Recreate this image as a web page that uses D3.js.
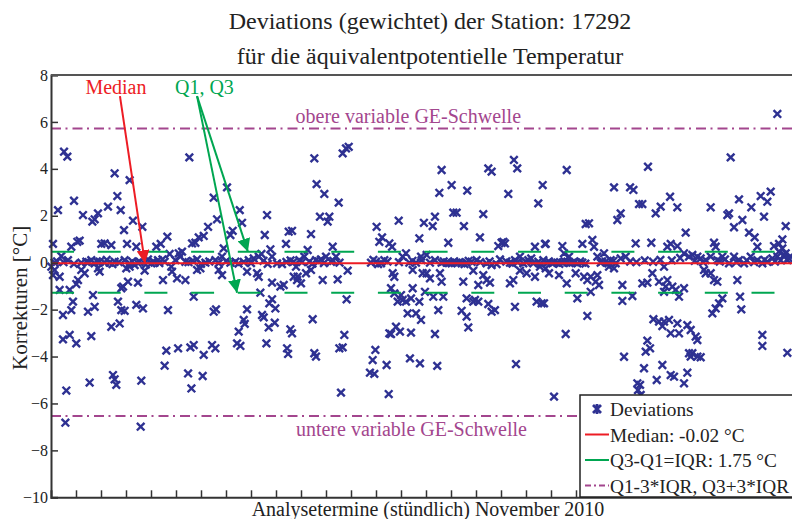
<!DOCTYPE html>
<html>
<head>
<meta charset="utf-8">
<script src="https://cdn.jsdelivr.net/npm/d3@7"></script>
<style>
  body { margin: 0; background: #fff; }
  svg { display: block; overflow: hidden; }
  text { font-family: "Liberation Serif", "Times New Roman", serif; }
</style>
</head>
<body>
<div id="chart"></div>
<script>
(function () {

// hourly analysis terms, November 2010 (hour since 1 Nov 00 UTC, deviation in °C)
const deviations = [
  // 1 - 5 Nov
  [12.5,4.73],[15.7,4.52],[6.7,2.24],[22.1,2.64],[61.1,3.81],[75.5,3.52],[63.7,2.84],[54.7,2.39],
  [30.7,2.03],[39.7,1.75],[41.9,1.85],[45.1,2.1],[66.9,2.24],[70.1,1.39],[78.7,1.79],[87.7,1.53],
  [111.7,1.11],[25.3,0.89],[27.5,0.94],[1.9,0.8],[48.3,0.8],[51.5,0.82],[57.9,0.75],[73,0.8],
  [81.9,0.68],[101.1,0.68],[105.3,0.8],[113.9,0.37],[9.9,0.28],[19.5,0.68],
  [3.5,0],[29.1,0],[33.9,0.04],[41.9,-0.03],[46.7,0.04],[51.5,0],[56.3,0],[75.5,-0.03],[80.3,-0.1],
  [96.3,-0.03],[99.5,0],[109.1,0.04],[115.5,-0.17],[16.3,0.11],[38.7,0.11],[61.1,0.04],[70.7,0.11],
  [85.1,0.04],[93.1,0.14],[102.7,0.11],[5.8,0.05],[12,0.02],[22,-0.05],[36,0.02],[44,0.06],[53.5,0.12],
  [59,-0.06],[65,0.02],[78,0.05],[83,0.0],[91,-0.08],[98,0.06],[104,-0.02],[107,0.14],
  [0.3,-0.17],[3.5,-0.31],[8.3,-0.6],[1.9,-0.53],[29.1,-0.31],[32.3,-0.45],[25.9,-0.74],[24.3,-0.91],
  [45.1,-0.24],[46.7,-0.38],[72.3,-0.24],[75.5,-0.17],[89.9,-0.34],[107.5,-0.74],[69.1,-1.02],
  [73.9,-0.81],[67.5,-1.09],[83.5,-0.85],[8.3,-1.16],[17.9,-1.16],[40.3,-1.38],[21.1,-1.66],
  [19.5,-2.02],[11.5,-2.23],[35.5,-2.09],[41.9,-1.88],[64.3,-1.66],[67.5,-2.02],[70.7,-2.05],
  [81.9,-1.8],[88.3,-1.95],[112.3,-2.02],[57.9,-2.73],[65.9,-2.59],[11.5,-3.27],[17.9,-3.08],
  [24.3,-3.44],[38.7,-3.13],[110.7,-3.75],[109.1,-4.39],[14.7,-5.45],[37.1,-5.11],[59.5,-4.79],
  [61.1,-4.97],[62.7,-5.21],[86.7,-5.03],[13.8,-6.82],[86.1,-6.99],
  // 5 - 10 Nov
  [132.8,4.49],[169,3.21],[156.2,2.77],[181.2,2.24],[183.4,1.7],[159.4,1.85],[150.8,1.53],[146.6,1.14],
  [141.8,1.08],[138.6,0.85],[135.4,0.82],[174.4,1.36],[172.2,1.18],[207.4,2.03],[205.2,1.18],
  [228.2,1.32],[231.4,1.36],[225.6,0.8],[165.8,0.61],[210.6,0.57],[202,0.37],
  [119.4,0.11],[124.2,0.26],[129,0.04],[140.2,0.14],[148.2,0],[157.8,0.11],[164.2,0.26],[172.2,0],
  [177,0.04],[189.8,0.11],[194.6,0.18],[199.4,0.26],[212.2,0.26],[217,-0.03],[221.8,-0.06],[233,0.04],
  [122.6,0.4],[125.8,0.47],[132,0.02],[136,0.08],[144,-0.05],[152,0.05],[161,-0.02],[168,0.06],
  [180,-0.04],[185,0.03],[192,-0.02],[204,0.08],[208,-0.05],[226,0.03],[230,0.1],
  [121,-0.67],[129,-0.74],[140.2,-0.31],[143.4,-0.24],[161,-0.31],[164.2,-0.53],[188.2,-0.38],
  [197.8,-0.45],[199.4,-0.6],[233,-0.6],[236.2,-0.74],[116.2,-0.38],[212.2,-0.85],[220.2,-1.02],
  [223.4,-0.95],[137,-1.45],[201,-1.28],[156.2,-2.09],[158.4,-1.99],[188.2,-1.99],[185,-2.44],
  [186,-2.61],[180.2,-2.94],[178.6,-3.44],[181.8,-3.55],[202.6,-2.23],[204.2,-2.33],[212.2,-1.56],
  [209.6,-1.73],[215.4,-1.95],[209,-2.76],[214.8,-2.56],[206.8,-3.44],[229.8,-2.84],[231.4,-3.01],
  [226.6,-3.65],[227.6,-3.89],[122,-3.65],[133.8,-3.61],[137,-3.51],[146.6,-3.93],[154.6,-3.51],
  [157.8,-3.65],[131.6,-4.72],[145.6,-4.83],[134.8,-5.36],
  // 10 - 15 Nov
  [252.8,4.45],[280,4.66],[283.2,4.87],[285.8,4.94],[255,3.35],[262.4,2.93],[276.2,2.56],[258.2,1.96],
  [265.6,1.75],[267.2,1.96],[249.6,1.22],[246.4,0.54],[270.4,0.68],[312.6,1.53],[317.8,1.08],
  [315.2,0.89],[327.4,0.68],[324.8,0.82],[333.8,1.79],[353.6,1.04],
  [235.2,-0.17],[238.4,0.11],[243.2,0.26],[248,0.04],[254.4,0.11],[259.2,0.14],[264,0.26],[268.8,0.04],
  [273.6,0.26],[307.2,0],[312,0.04],[316.8,-0.03],[320,0.11],[337.6,0.26],[344,0],[350.4,0],
  [355.2,0.26],[340.8,0.4],[241,0.02],[251,-0.04],[257,0.06],[262,-0.02],[271,0.08],[277,0.0],
  [309.5,0.12],[314,-0.06],[323,0.05],[334,0.02],[347,0.08],
  [236.8,-0.6],[240,-0.88],[244.8,-0.45],[249.6,-0.31],[260.8,-0.74],[275.2,-0.71],[284.8,-0.34],
  [328,-0.45],[329.6,-0.6],[347.2,-0.31],[356.8,-0.45],[283.8,-1.56],[326.4,-1.09],[329.6,-1.31],
  [336,-1.38],[337.6,-1.59],[332.8,-1.66],[340.8,-1.66],[345.6,-1.52],[347.2,-1.09],[350.4,-2.16],
  [353.6,-1.66],[355.2,-2.44],[342.4,-2.16],[251.2,-2.41],[281.6,-3.08],[280,-3.61],[276.8,-3.65],
  [252.8,-3.86],[254.4,-4.0],[324.8,-3.01],[331.2,-2.73],[326.4,-3.04],[335,-2.94],[345.6,-2.98],
  [311.4,-3.72],[308.8,-4.15],[306.2,-4.69],[310.4,-4.74],[322.2,-4.36],[344.6,-4.08],[354.2,-4.29],
  [278.4,-5.54],[324.2,-5.6],
  // 15 - 20 Nov
  [375,3.95],[384.6,3.31],[372.8,2.98],[399.6,3.07],[419.8,4.02],[423,3.88],[444.4,4.38],[447.6,4.02],
  [439,2.93],[472,3.31],[467.8,2.53],[386.2,2.13],[389.4,2.13],[368.6,1.96],[366.4,1.56],[358,1.7],
  [415,2.07],[396.4,1.56],[411.8,1.08],[381.4,0.85],[429.4,0.71],[432.6,0.85],[435.8,0.82],
  [434.2,0.89],[464.6,0.68],[474.2,0.8],
  [375,0],[379.8,0],[384.6,-0.03],[389.4,0],[394.2,-0.03],[399,0],[403.8,0.04],[408.6,0.11],
  [418.2,-0.03],[423,-0.1],[427.8,-0.06],[440.6,0],[445.4,0.11],[450.2,0.26],[453.4,-0.03],
  [458.2,0.11],[463,-0.03],[467.8,0.04],[472.6,0.11],[360.6,0.33],[363.8,0],[368.6,0.11],[355.8,0.11],
  [377,0.05],[382,-0.02],[387,0.06],[392,0.02],[397,-0.06],[401,0.08],[412,0.02],[421,0.05],
  [431,0.14],[437,0.05],[443,-0.04],[448,0.02],[456,0.04],[461,0.18],[470,-0.05],
  [360.6,-0.45],[363.8,-0.67],[373.4,-0.45],[375,-0.81],[395.8,-0.81],[405.4,-0.34],[410.2,-0.95],
  [415,-0.53],[418.2,-0.74],[421.4,-0.85],[440.6,-0.88],[443.8,-0.74],[450.2,-0.34],[456.6,-0.45],
  [464.6,-0.6],[469.4,-0.17],[359,-1.24],[367,-1.45],[376.6,-1.45],[399,-1.52],[405.4,-1.66],
  [407,-1.59],[410.2,-1.66],[419.8,-1.76],[423,-2.09],[426.2,-2.02],[445.4,-1.88],[466.2,-1.66],
  [471,-1.73],[371.8,-2.02],[394.2,-2.05],[399,-2.3],[400.6,-2.76],[368.6,-3.04],[370.8,-4.4],
  [446.4,-4.32],
  // 20 - 25 Nov
  [495.1,3.95],[573.1,4.09],[540.5,3.21],[555.9,3.21],[559.1,3.1],[564.5,2.5],[567.7,2.5],[585.3,2.39],
  [580.5,2.1],[546.9,2.1],[543.7,1.82],[513.3,1.65],[516.5,1.68],[561.3,0.82],[576.3,0.85],
  [519.7,0.97],[510.1,0.8],[490.9,0.71],[474.9,0.8],
  [476.5,0],[481.3,-0.03],[486.1,0],[490.9,0],[495.7,0.04],[500.5,0],[505.3,-0.03],[510.1,0],
  [527.7,0],[532.5,0.04],[537.3,0.11],[542.1,-0.03],[546.9,0.18],[551.7,0.26],[524.5,0.26],
  [530.9,0.4],[521.3,0.68],[492.5,0.4],[497.3,0.26],[478,0.05],[483,0.02],[488,-0.05],[493,0.06],
  [498,-0.02],[503,0.03],[508,0.05],[513,-0.04],[529,0.06],[535,-0.03],[540,0.08],[556,0.05],
  [562,0.02],[570,0.1],[578,0.04],[585,0.12],
  [474.9,-0.24],[478.1,-0.45],[487.7,-0.53],[503.7,-0.45],[511.7,-0.6],[514.9,-0.74],[518.1,-0.6],
  [522.9,-0.81],[526.1,-0.95],[524.5,-0.53],[535.7,-0.17],[540.5,-0.24],[548.5,-0.95],[577.3,-0.45],
  [567.7,-0.88],[572.5,-0.85],[583.7,-0.81],[495.1,-0.88],[505.3,-1.52],[518.1,-1.24],[548.5,-1.63],
  [558.1,-1.42],[514.9,-2.27],[494.1,-3.04],[473.3,-1.73],[578.3,-2.41],[583.7,-2.51],[586.9,-2.7],
  [572.5,-3.32],[575.1,-3.65],[570.9,-3.79],[550.1,-4.01],[569.3,-4.5],[586.9,-4.36],[581.5,-5.0],
  [562.9,-5.14],[565.5,-5.21],[563.5,-5.43],[566.1,-5.64],[482.9,-5.71],
  // 25 - 30 Nov
  [697.3,6.34],[652.5,4.49],[594.3,2.81],[601.3,2.36],[633.3,2.36],[649.3,2.03],[650.9,2.1],[660.5,2.7],
  [672.3,2.36],[681.3,2.84],[687.7,2.6],[690.9,3.03],[684.5,1.96],[663.7,1.82],[655.7,1.51],
  [670.1,1.28],[675.5,1.08],[609.3,1.28],[705.3,1.56],[636.5,0.85],[638.1,0.68],[702.1,0.99],
  [698.9,0.8],[694.1,0.71],[678.1,0.68],[594.9,0.8],[601.3,0.71],[591.7,0.68],
  [607.7,0.4],[612.5,0.26],[615.7,0.33],[620.5,0.26],[623.7,0.18],[628.5,0.11],[633.3,0.26],
  [639.7,0.11],[644.5,0.26],[650.9,-0.03],[655.7,0.26],[660.5,0.11],[665.3,-0.03],[671.7,0.26],
  [678.1,0.11],[682.9,-0.03],[687.7,0.04],[692.5,0.18],[697.3,0.26],[700.5,0.11],[703.7,0.33],
  [706.9,0.11],[710.1,0.26],[698.9,0.47],[702.1,0.61],[705.3,0.4],[596,0.1],[604,0.2],[618,0.08],
  [626,0.02],[642,0.05],[647,0.14],[658,0.03],[668,0.1],[675,0.02],[685,0.12],[695,0.05],[708,0.2],
  [588.5,-0.17],[591.7,-0.74],[596.5,-1.02],[599.7,-1.16],[602.9,-1.45],[607.7,-1.09],[626.9,-0.31],
  [628.5,-0.45],[633.3,-0.45],[636.5,-0.74],[639.7,-0.81],[644.5,-1.52],[641.3,-1.73],[638.1,-1.95],
  [634.9,-2.16],[658.9,-0.74],[661.5,-1.45],[662.7,-1.99],[590.1,-1.02],[588.5,-1.24],[588.5,-2.51],
  [593.3,-2.44],[594.9,-3.01],[601.3,-2.59],[602.9,-3.01],[610.9,-2.66],[614.1,-2.87],[618.9,-3.15],
  [620.5,-3.3],[615.7,-3.86],[614.1,-4.0],[620.5,-4.0],[623.7,-4.03],[612.5,-3.86],[594.9,-4.79],
  [598.1,-4.86],[607.7,-5.14],[610.9,-4.69],[682.9,-3.08],[682.9,-3.55],[706.9,-3.84]
];

// statistics shown in the legend
const median = -0.02;
const q1 = -1.28, q3 = 0.47;
const iqr = q3 - q1;
const lowerLimit = q1 - 3 * iqr, upperLimit = q3 + 3 * iqr;

const titleLines = ["Deviations (gewichtet) der Station: 17292", "für die äquivalentpotentielle Temperatur"];
const yTicks = [-10, -8, -6, -4, -2, 0, 2, 4, 6, 8];
const dayTicks = d3.range(24, 721, 24);
const legendItems = [
  {label: "Deviations", kind: "mark"},
  {label: "Median: -0.02 °C", kind: "median"},
  {label: "Q3-Q1=IQR: 1.75 °C", kind: "iqr"},
  {label: "Q1-3*IQR, Q3+3*IQR", kind: "limit"}
];

const W = 792, H = 519;
const margin = {top: 75, left: 51};
const width = 750, height = 422.3;
const serif = "'Liberation Serif', 'Times New Roman', serif";

const navy = "#2e3192", red = "#ed1c24", green = "#00a651", purple = "#a3468e", axisCol = "#333";

const svg = d3.select("#chart").append("svg")
    .attr("width", W)
    .attr("height", H);

const x = d3.scaleLinear().domain([0, 720]).range([margin.left, margin.left + width]);
const y = d3.scaleLinear().domain([-10, 8]).range([margin.top + height, margin.top]);

// title
svg.selectAll(".title")
  .data(titleLines)
  .join("text")
    .attr("x", 430)
    .attr("y", (d, i) => 29 + i * 35)
    .attr("text-anchor", "middle")
    .attr("font-size", 24)
    .attr("fill", "#222")
    .text(d => d);

// threshold lines
const limits = [upperLimit, lowerLimit];
svg.selectAll(".limit")
  .data(limits)
  .join("line")
    .attr("x1", x(0)).attr("x2", x(720))
    .attr("y1", d => y(d)).attr("y2", d => y(d))
    .attr("stroke", purple)
    .attr("stroke-width", 2)
    .attr("stroke-dasharray", "10,4.5,2,5");

svg.append("text")
    .attr("x", x(343)).attr("y", y(upperLimit) - 5)
    .attr("text-anchor", "middle").attr("font-size", 20).attr("fill", purple)
    .text("obere variable GE-Schwelle");
svg.append("text")
    .attr("x", x(346)).attr("y", y(lowerLimit) + 20)
    .attr("text-anchor", "middle").attr("font-size", 20).attr("fill", purple)
    .text("untere variable GE-Schwelle");

// deviations as x marks
const cross = "M-3.8,-3.8L3.8,3.8M-3.8,3.8L3.8,-3.8";
svg.append("g")
  .selectAll("path")
  .data(deviations)
  .join("path")
    .attr("transform", d => `translate(${x(d[0])},${y(d[1])})`)
    .attr("d", cross)
    .attr("stroke", navy)
    .attr("stroke-width", 2.4)
    .attr("fill", "none");

// quartile lines
svg.selectAll(".quart")
  .data([q3, q1])
  .join("line")
    .attr("x1", x(0)).attr("x2", x(720))
    .attr("y1", d => y(d)).attr("y2", d => y(d))
    .attr("stroke", green)
    .attr("stroke-width", 2)
    .attr("stroke-dasharray", "23,23.7");

// median
svg.append("line")
    .attr("x1", x(0)).attr("x2", x(720))
    .attr("y1", y(median)).attr("y2", y(median))
    .attr("stroke", red).attr("stroke-width", 2);

// annotations with arrows
const defs = svg.append("defs");
[["arRed", red], ["arGreen", green]].forEach(([id, c]) => {
  defs.append("marker")
      .attr("id", id)
      .attr("viewBox", "0 0 10 10")
      .attr("refX", 10).attr("refY", 5)
      .attr("markerWidth", 13).attr("markerHeight", 13)
      .attr("markerUnits", "userSpaceOnUse")
      .attr("orient", "auto")
    .append("path")
      .attr("d", "M0,0L10,5L0,10z")
      .attr("fill", c);
});

const arrows = [
  {from: [66.2, 7.1], to: [90.2, median], color: red, marker: "arRed"},
  {from: [140.2, 7.1], to: [189, q3], color: green, marker: "arGreen"},
  {from: [140.2, 7.1], to: [178.6, q1], color: green, marker: "arGreen"}
];
svg.selectAll(".arrow")
  .data(arrows)
  .join("line")
    .attr("x1", d => x(d.from[0])).attr("y1", d => y(d.from[1]))
    .attr("x2", d => x(d.to[0])).attr("y2", d => y(d.to[1]))
    .attr("stroke", d => d.color)
    .attr("stroke-width", 2)
    .attr("marker-end", d => `url(#${d.marker})`);

svg.append("text")
    .attr("x", x(33)).attr("y", y(7.2))
    .attr("font-size", 20).attr("fill", red)
    .text("Median");
svg.append("text")
    .attr("x", x(119)).attr("y", y(7.2))
    .attr("font-size", 20).attr("fill", green)
    .text("Q1, Q3");

// axes
const yAxis = d3.axisLeft(y).tickValues(yTicks).tickSize(-7).tickPadding(12);
const gy = svg.append("g")
    .attr("transform", `translate(${margin.left},0)`)
    .call(yAxis);
gy.select(".domain").attr("stroke", axisCol).attr("stroke-width", 2);
gy.selectAll(".tick line").attr("stroke", axisCol).attr("stroke-width", 1.5);
gy.selectAll(".tick text")
    .style("font-family", serif)
    .attr("font-size", 16)
    .attr("fill", "#222")
    .attr("x", -3);

const xAxis = d3.axisBottom(x).tickValues(dayTicks).tickSize(-7).tickFormat("");
const gx = svg.append("g")
    .attr("transform", `translate(0,${margin.top + height})`)
    .call(xAxis);
gx.select(".domain").attr("stroke", axisCol).attr("stroke-width", 2);
gx.selectAll(".tick line").attr("stroke", axisCol).attr("stroke-width", 1.5);

// top frame
svg.append("line")
    .attr("x1", x(0)).attr("x2", x(720))
    .attr("y1", y(8)).attr("y2", y(8))
    .attr("stroke", "#555").attr("stroke-width", 2);

// axis labels
svg.append("text")
    .attr("transform", `translate(27,${y(-1.5)}) rotate(-90)`)
    .attr("text-anchor", "middle")
    .attr("font-size", 21).attr("fill", "#222")
    .text("Korrekturen [°C]");
svg.append("text")
    .attr("x", 428).attr("y", 516)
    .attr("text-anchor", "middle")
    .attr("font-size", 20).attr("fill", "#222")
    .text("Analysetermine (stündlich) November 2010");

// legend
const lg = svg.append("g").attr("transform", "translate(580,395)");
lg.append("rect")
    .attr("width", 240).attr("height", 102)
    .attr("fill", "#fff").attr("stroke", "#222").attr("stroke-width", 1.5);

const item = lg.selectAll(".item")
  .data(legendItems)
  .join("g")
    .attr("transform", (d, i) => `translate(0,${14 + i * 25.5})`);

item.filter(d => d.kind === "mark").append("path")
    .attr("transform", "translate(17,0)")
    .attr("d", "M-4,-4L4,4M-4,4L4,-4M0,-5L0,5")
    .attr("stroke", navy).attr("stroke-width", 2.8);
item.filter(d => d.kind !== "mark").append("line")
    .attr("x1", 5).attr("x2", 29)
    .attr("stroke", d => d.kind === "median" ? red : d.kind === "iqr" ? green : purple)
    .attr("stroke-width", 2)
    .attr("stroke-dasharray", d => d.kind === "limit" ? "6,3,2,3" : null);
item.append("text")
    .attr("x", 30)
    .attr("y", 7)
    .attr("font-size", 19.3).attr("fill", "#222")
    .text(d => d.label);

})();
</script>
</body>
</html>
